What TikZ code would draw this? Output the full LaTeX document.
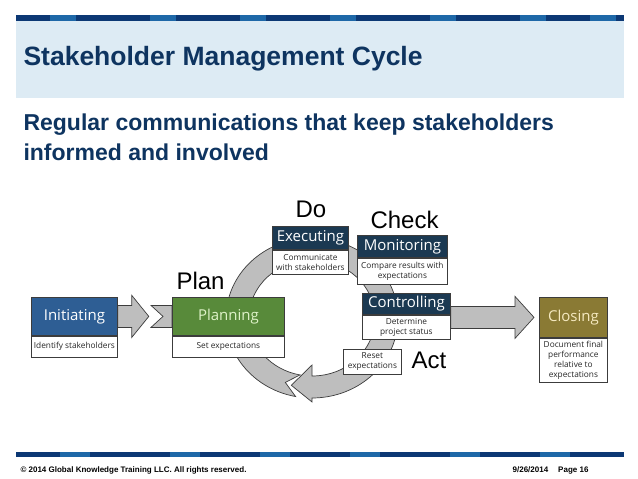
\documentclass[tikz,border=0pt]{standalone}
\usepackage{fontspec}
\setmainfont{Liberation Sans}
\newfontfamily\boxfont{Open Sans}
\usepackage{tikz}
\usetikzlibrary{positioning,calc}
\definecolor{navyTitle}{RGB}{14,52,96}
\definecolor{panelBlue}{RGB}{221,235,244}
\definecolor{stripeDark}{RGB}{12,56,116}
\definecolor{stripeMid}{RGB}{30,104,168}
\definecolor{initBlue}{RGB}{46,94,148}
\definecolor{planGreen}{RGB}{88,138,58}
\definecolor{phaseNavy}{RGB}{27,57,82}
\definecolor{closeOlive}{RGB}{138,122,52}
\definecolor{arrowGray}{RGB}{190,190,190}
\definecolor{edgeGray}{RGB}{60,60,60}
\pgfdeclarelayer{background}
\pgfsetlayers{background,main}

\begin{document}
\begin{tikzpicture}[x=1pt, y=-1pt,
    hdr/.style={draw=edgeGray, line width=0.8pt, inner sep=0pt, anchor=north west,
                font=\boxfont\fontsize{15}{17}\selectfont},
    txt/.style={draw=edgeGray, fill=white, line width=0.8pt, inner sep=0pt, align=center,
                text=black!85, font=\boxfont\fontsize{8.3}{10}\selectfont},
    phase/.style={anchor=base west, font=\fontsize{24}{28}\selectfont},
    blockarrow/.style={fill=arrowGray, draw=edgeGray, line width=0.7pt, line join=miter},
    node distance=0pt
]
    \useasboundingbox (0,0) rectangle (638,479);

    % header band
    \fill[stripeDark] (16,15) rectangle (624,21);
    \foreach \x in {50,150,240,330,430,520,590}
        \fill[stripeMid] (\x,15) rectangle ++(26,6);
    \fill[panelBlue] (16,21) rectangle (624,98);
    \node[anchor=base west, text=navyTitle, font=\bfseries\fontsize{26.5}{30}\selectfont]
        (title) at (20,65) {Stakeholder Management Cycle};
    \node[anchor=base west, text=navyTitle, font=\bfseries\fontsize{23}{27}\selectfont]
        (sub1) at (20,130) {Regular communications that keep stakeholders};
    \node[anchor=base west, text=navyTitle, font=\bfseries\fontsize{23}{27}\selectfont]
        (sub2) at (20,160) {informed and involved};

    % phases
    \node[hdr, fill=initBlue, text=white, minimum width=86pt, minimum height=38pt] (inithd) at (31,297) {Initiating};
    \node[txt, minimum width=86pt, minimum height=21pt, below=of inithd] (initbd) {Identify stakeholders};
    \node[hdr, fill=planGreen, text={rgb,255:red,222;green,242;blue,200}, minimum width=112pt, minimum height=38pt] (planhd) at (172,297) {Planning};
    \node[txt, minimum width=112pt, minimum height=21pt, below=of planhd] (planbd) {Set expectations};
    \node[hdr, fill=phaseNavy, text=white, minimum width=76pt, minimum height=23pt] (exechd) at (272,226) {Executing};
    \node[txt, minimum width=76pt, minimum height=24pt, below=of exechd] (execbd) {Communicate\\with stakeholders};
    \node[hdr, fill=phaseNavy, text=white, minimum width=90pt, minimum height=22pt] (monhd) at (357,235) {Monitoring};
    \node[txt, minimum width=90pt, minimum height=26pt, below=of monhd] (monbd) {Compare results with\\expectations};
    \node[hdr, fill=phaseNavy, text=white, minimum width=88pt, minimum height=21pt] (ctrlhd) at (362,293) {Controlling};
    \node[txt, minimum width=88pt, minimum height=24pt, below=of ctrlhd] (ctrlbd) {Determine\\project status};
    \node[txt, anchor=north west, minimum width=58pt, minimum height=25pt] (reset) at (343,349) {Reset\\expectations};
    \node[hdr, fill=closeOlive, text={rgb,255:red,245;green,233;blue,192}, minimum width=68pt, minimum height=40pt] (closehd) at (539,297) {Closing};
    \node[txt, minimum width=68pt, minimum height=44pt, below=of closehd] (closebd) {Document final\\performance\\relative to\\expectations};

    \node[phase] (plan) at (173,289) {Plan};
    \node[phase] (do) at (292,217) {Do};
    \node[phase] (check) at (367,228) {Check};
    \node[phase] (act) at (408,368) {Act};

    \coordinate (cyc) at (312,318);

    \begin{pgfonlayer}{background}
        \fill[white] (0,0) rectangle (638,479);
        % cycle ring
        \path[blockarrow] ($(cyc)+(101:86 and 80)$)
            arc[start angle=101, end angle=450, x radius=86, y radius=80]
            -- ($(cyc)+(90:90 and 84)$) -- ($(cyc)+(106:75 and 70)$)
            -- ($(cyc)+(90:50 and 47)$) -- ($(cyc)+(90:63 and 58)$)
            arc[start angle=450, end angle=101, x radius=63, y radius=58]
            -- ($(cyc)+(111:74.5 and 69)$) -- cycle;
        % into planning
        \path[blockarrow] (inithd.east) ++(0,-11) -- ++(14,0) -- ++(0,-10) -- ++(17,21)
            -- ++(-17,21) -- ++(0,-10) -- ++(-14,0) -- cycle;
        \path[blockarrow] ($(planhd.west)+(-21,-11)$) -- ($(planhd.west)+(0,-11)$)
            -- ($(planhd.west)+(0,11)$) -- ($(planhd.west)+(-21,11)$)
            -- ($(planhd.west)+(-9,0)$) -- cycle;
        % out to closing
        \path[blockarrow] ($(ctrlhd.east |- closehd.west)+(0,-11)$) -- ($(closehd.west)+(-24,-11)$)
            -- ($(closehd.west)+(-24,-21)$) -- ($(closehd.west)+(-5,0)$)
            -- ($(closehd.west)+(-24,21)$) -- ($(closehd.west)+(-24,11)$)
            -- ($(ctrlhd.east |- closehd.west)+(0,11)$) -- cycle;
    \end{pgfonlayer}

    % footer
    \fill[stripeDark] (16,452) rectangle (624,457);
    \foreach \x in {60,170,260,350,450,540}
        \fill[stripeMid] (\x,452) rectangle ++(30,5);
    \node[anchor=base west, font=\bfseries\fontsize{8}{9}\selectfont] (copy) at (17,472)
        {© 2014 Global Knowledge Training LLC.\ All rights reserved.};
    \node[anchor=base east, font=\bfseries\fontsize{8}{9}\selectfont] (page) at (592,472)
        {9/26/2014\hspace{10pt}Page 16};
\end{tikzpicture}
\end{document}
